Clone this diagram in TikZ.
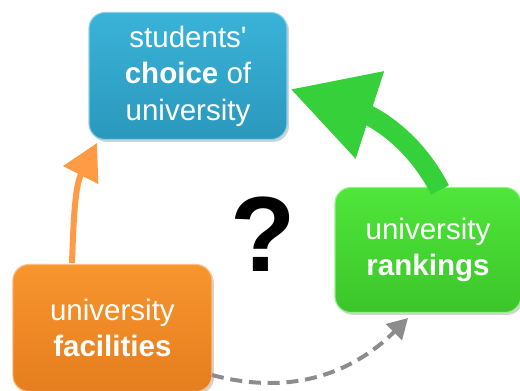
\documentclass[tikz,border=0pt]{standalone}
\usepackage{fontspec}
\setmainfont{Liberation Sans}
\usetikzlibrary{arrows.meta}
\usetikzlibrary{shadows}

\definecolor{boxblue}{HTML}{3AB3D8}
\definecolor{boxbluedark}{HTML}{2A98BC}
\definecolor{boxgreen}{HTML}{4FE63A}
\definecolor{boxgreendark}{HTML}{3CC52A}
\definecolor{boxorange}{HTML}{F8952E}
\definecolor{boxorangedark}{HTML}{E57E1E}
\definecolor{arrgreen}{HTML}{36D03A}
\definecolor{arrorange}{HTML}{FF9B45}
\definecolor{arrgrey}{HTML}{8C8C8C}

\begin{document}
\begin{tikzpicture}
\useasboundingbox (0,0) rectangle (13,9.75);
\clip (0,0) rectangle (13,9.75);
\begin{scope}
	\tikzstyle{every node}=[align=center, text=white, font=\fontsize{21}{26}\selectfont]
	\tikzstyle{box}=[rounded corners=0.4cm, inner sep=0pt, drop shadow={opacity=0.35, shadow xshift=0.05cm, shadow yshift=-0.06cm}]
	\node[box, minimum width=4.95cm, minimum height=3.175cm, top color=boxblue, bottom color=boxbluedark, draw=boxblue!60!white, line width=0.8pt] (choice) at (4.7,7.85) {students\textquotesingle\\\textbf{choice} of\\university};
	\node[box, minimum width=4.65cm, minimum height=3.125cm, top color=boxgreen, bottom color=boxgreendark, draw=boxgreen!60!white, line width=0.8pt] (rank) at (10.7,3.5) {university\\\textbf{rankings}};
	\node[box, minimum width=4.975cm, minimum height=3.175cm, top color=boxorange, bottom color=boxorangedark, draw=boxorange!60!white, line width=0.8pt] (fac) at (2.81,1.55) {university\\\textbf{facilities}};
	\node[text=black, font=\fontsize{76}{76}\selectfont\bfseries] (q) at (6.575,3.9) {?};

	\coordinate (o1) at (1.8,3.175);
	\coordinate (o2) at (2.425,6.175);
	\coordinate (g1) at (11.0,5.0);
	\coordinate (g2) at (7.25,7.525);
	\coordinate (d1) at (5.3,0.375);
	\coordinate (d2) at (10.2,1.8);

	\draw [line width=0.15cm, arrorange][-{Triangle[length=0.9cm,width=0.95cm]}] (o1) to[out=88, in=-117] (o2);
	\draw [line width=0.5cm, arrgreen][-{Triangle[length=2.1cm,width=2.15cm]}] (g1) to[out=117, in=-18] (g2);
	\draw [line width=0.1cm, arrgrey, dash pattern=on 0.3cm off 0.17cm][-{Triangle[length=0.5cm,width=0.55cm]}] (d1) to[out=-15, in=-135] (d2);
\end{scope}
\end{tikzpicture}
\end{document}
